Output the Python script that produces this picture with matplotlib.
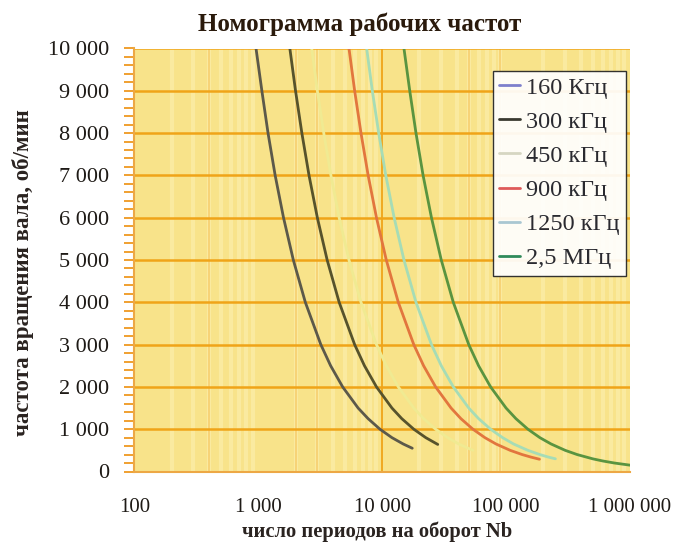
import matplotlib
matplotlib.use("Agg")
import matplotlib.pyplot as plt
from matplotlib.ticker import FuncFormatter, FixedLocator
import numpy as np

plt.rcParams['font.family'] = ['Liberation Serif', 'DejaVu Serif']

# ---- data: rotation speed (rpm) vs periods per revolution (Nb)
labels = ["160 Кгц", "300 кГц", "450 кГц", "900 кГц", "1250 кГц", "2,5 МГц"]

rpm_160 = [10000, 9000, 8000, 7000, 6000, 5000, 4000, 3000, 2500, 2000, 1500, 1250, 1000, 800, 650, 550]
nb_160 = [960, 1070, 1200, 1370, 1600, 1920, 2400, 3200, 3840, 4800, 6400, 7700, 9600, 12000, 14800, 17500]

rpm_300 = [10000, 9000, 8000, 7000, 6000, 5000, 4000, 3000, 2500, 2000, 1500, 1250, 1000, 800, 640]
nb_300 = [1800, 2000, 2250, 2570, 3000, 3600, 4500, 6000, 7200, 9000, 12000, 14400, 18000, 22500, 28100]

rpm_450 = [10000, 9000, 8000, 7000, 6000, 5000, 4000, 3000, 2500, 2000, 1500, 1250, 1000, 800, 650, 500]
nb_450 = [2700, 3000, 3380, 3860, 4500, 5400, 6750, 9000, 10800, 13500, 18000, 21600, 27000, 33800, 41500, 54000]

rpm_900 = [10000, 9000, 8000, 7000, 6000, 5000, 4000, 3000, 2500, 2000, 1500, 1250, 1000, 800, 650, 500, 400, 340, 290]
nb_900 = [5400, 6000, 6750, 7710, 9000, 10800, 13500, 18000, 21600, 27000, 36000, 43200, 54000, 67500, 83000,
          108000, 135000, 159000, 186000]

rpm_1250 = [10000, 9000, 8000, 7000, 6000, 5000, 4000, 3000, 2500, 2000, 1500, 1250, 1000, 800, 650, 500, 400, 340, 300]
nb_1250 = [7500, 8330, 9380, 10700, 12500, 15000, 18750, 25000, 30000, 37500, 50000, 60000, 75000, 93800, 115000,
           150000, 187500, 220000, 250000]

rpm_2500 = [10000, 9000, 8000, 7000, 6000, 5000, 4000, 3000, 2500, 2000, 1500, 1250, 1000, 800, 650, 500, 400, 300,
            250, 200, 150]
nb_2500 = [15000, 16700, 18750, 21400, 25000, 30000, 37500, 50000, 60000, 75000, 100000, 120000, 150000, 187500,
           231000, 300000, 375000, 500000, 600000, 750000, 1000000]

series_rpm = [rpm_160, rpm_300, rpm_450, rpm_900, rpm_1250, rpm_2500]
series_nb = [nb_160, nb_300, nb_450, nb_900, nb_1250, nb_2500]

x_ticks = [100, 1000, 10000, 100000, 1000000]
y_ticks = [0, 1000, 2000, 3000, 4000, 5000, 6000, 7000, 8000, 9000, 10000]
extra_vlines = [400, 2000, 3000, 10000, 50000, 90000]

# ---- styling
line_colors = ["#5c594a", "#57532c", "#f0ea92", "#e2763e", "#a6dcb6", "#5a9440"]
legend_colors = ["#7d80cc", "#3a3a30", "#d6d6c2", "#de5a5a", "#a9c7d2", "#2f8a5a"]
grid_orange = "#f0a418"

fig = plt.figure(figsize=(6.83, 5.46), dpi=100)
ax = fig.add_axes([134.3 / 683, 74.5 / 546, (630 - 134.3) / 683, (471.5 - 48.5) / 546])
ax.set_facecolor("#f8e38a")
ax.set_xscale("log")
ax.set_xlim(100, 1000000)
ax.set_ylim(0, 10000)

# faint vertical stripes (minor log grid)
ax.xaxis.set_minor_locator(FixedLocator([m * 10 ** e for e in range(2, 6) for m in range(2, 10)]))
ax.grid(True, which="minor", axis="x", color="#fdf0b0", linewidth=3.0, alpha=0.6, zorder=0)
ax.grid(True, which="major", axis="y", color=grid_orange, linewidth=1.8, zorder=1)
for v in extra_vlines:
    ax.axvline(v, color=grid_orange, linewidth=1.3, zorder=1)

handles = []
for rp, nb, c, lab in zip(series_rpm, series_nb, line_colors, labels):
    h, = ax.plot(nb, rp, color=c, linewidth=2.0, label=lab, zorder=3, solid_capstyle="round")
    handles.append(h)

for s in ["top", "right"]:
    ax.spines[s].set_visible(False)
for s in ["left", "bottom"]:
    ax.spines[s].set_color("#eda845")
    ax.spines[s].set_linewidth(1.5)

ax.set_xticks(x_ticks)
ax.xaxis.set_minor_formatter(FuncFormatter(lambda v, p: ""))
fmt = FuncFormatter(lambda v, p: f"{int(round(v)):,}".replace(",", " "))
ax.xaxis.set_major_formatter(fmt)
ax.set_yticks(y_ticks)
ax.yaxis.set_major_formatter(fmt)
ax.yaxis.set_minor_locator(FixedLocator(list(range(0, 10001, 200))))
ax.tick_params(axis="x", which="both", length=0, pad=19, labelsize=15, labelcolor="#1e1a16")
ax.tick_params(axis="y", which="both", length=7, width=1.4, color="#f0a030", pad=11,
               labelsize=16, labelcolor="#1e1a16")

fig.text(360 / 683, 1 - 24 / 546, "Номограмма рабочих частот", ha="center", va="center",
         fontsize=18, fontweight="bold", color="#2a1a0c")
fig.text(23 / 683, 1 - 273 / 546, "частота вращения вала, об/мин", ha="center", va="center",
         rotation=90, fontsize=16.5, fontweight="bold", color="#2a2320")
fig.text(377 / 683, 1 - 532 / 546, "число периодов на оборот Nb", ha="center", va="center",
         fontsize=14.8, fontweight="bold", color="#2a2320")

leg = ax.legend(handles=handles, loc="upper right", bbox_to_anchor=(625.5 / 683, 475.5 / 546),
                bbox_transform=fig.transFigure, fontsize=17.5, frameon=True, fancybox=False,
                edgecolor="#222222", facecolor="#ffffff", framealpha=0.92, handlelength=0.85,
                handletextpad=0.25, labelspacing=0.5, borderpad=0.25, borderaxespad=0)
leg.get_frame().set_linewidth(1.0)
for lh, c in zip(leg.get_lines(), legend_colors):
    lh.set_color(c)
    lh.set_linewidth(2.0)
for t in leg.get_texts():
    t.set_color("#2a2a30")

fig.savefig("out.png", dpi=100)
